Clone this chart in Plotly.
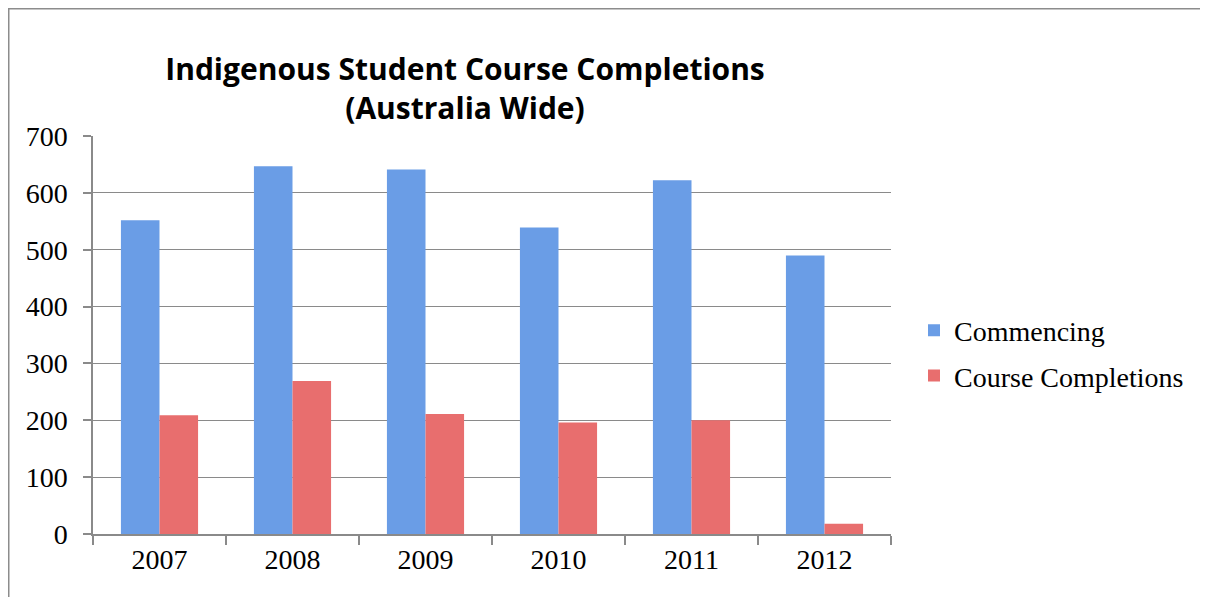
import plotly.graph_objects as go

years = ["2007", "2008", "2009", "2010", "2011", "2012"]
commencing = [552, 647, 641, 539, 622, 490]
completions = [209, 269, 211, 196, 200, 18]
series_names = ["Commencing", "Course Completions"]
y_ticks = [0, 100, 200, 300, 400, 500, 600, 700]

# page body has an 8px margin; figure sized to fill the rest of the window
W, H = 1200, 589
L, R, T, B = 85, 883, 128, 526
pw, ph = R - L, B - T

def px_x(x):
    return (x - L) / pw

def px_y(y):
    return (B - y) / ph

fig = go.Figure()
fig.add_trace(go.Bar(
    x=years, y=commencing, name=series_names[0],
    marker=dict(color="#6A9DE6", line=dict(width=0)),
    legendgroup="a",
))
fig.add_trace(go.Bar(
    x=years, y=completions, name=series_names[1],
    marker=dict(color="#E86E6E", line=dict(width=0)),
    legendgroup="b",
))

serif = "Liberation Serif"
fig.update_layout(
    width=W, height=H,
    margin=dict(l=L, r=W - R, t=T, b=H - B),
    paper_bgcolor="white", plot_bgcolor="white",
    barmode="group", bargap=0.42, bargroupgap=0,
    title=dict(
        text="<b>Indigenous Student Course Completions<br>(Australia Wide)</b>",
        font=dict(family="Open Sans", size=30, color="black"),
        xref="paper", x=px_x(457), xanchor="center",
        yref="container", y=1 - 72 / H, yanchor="middle",
    ),
    xaxis=dict(
        type="category", showgrid=False, showline=True, linecolor="#8a8a8a", linewidth=1.5,
        ticks="outside", tickson="boundaries", ticklen=9, tickcolor="#8a8a8a", tickwidth=1.5,
        tickfont=dict(family=serif, size=28, color="black"),
    ),
    yaxis=dict(
        range=[0, 700], tickvals=y_ticks, showgrid=True, gridcolor="#8a8a8a", gridwidth=1.3,
        showline=True, linecolor="#8a8a8a", linewidth=1.5, zeroline=False,
        ticks="outside", ticklen=8, tickcolor="#8a8a8a", tickwidth=1.5,
        tickfont=dict(family=serif, size=28, color="black"), ticklabelstandoff=10,
    ),
    legend=dict(
        x=px_x(906), xanchor="left", y=px_y(345), yanchor="middle",
        font=dict(family=serif, size=28, color="black"),
        traceorder="grouped", tracegroupgap=6, bgcolor="rgba(0,0,0,0)",
    ),
    shapes=[dict(
        type="rect", xref="paper", yref="paper",
        x0=px_x(0.75), x1=px_x(1220), y0=px_y(620), y1=px_y(0.75),
        line=dict(color="#8c8c8c", width=1.5), fillcolor="rgba(0,0,0,0)", layer="below",
    )],
)

fig.write_html("out.html")
